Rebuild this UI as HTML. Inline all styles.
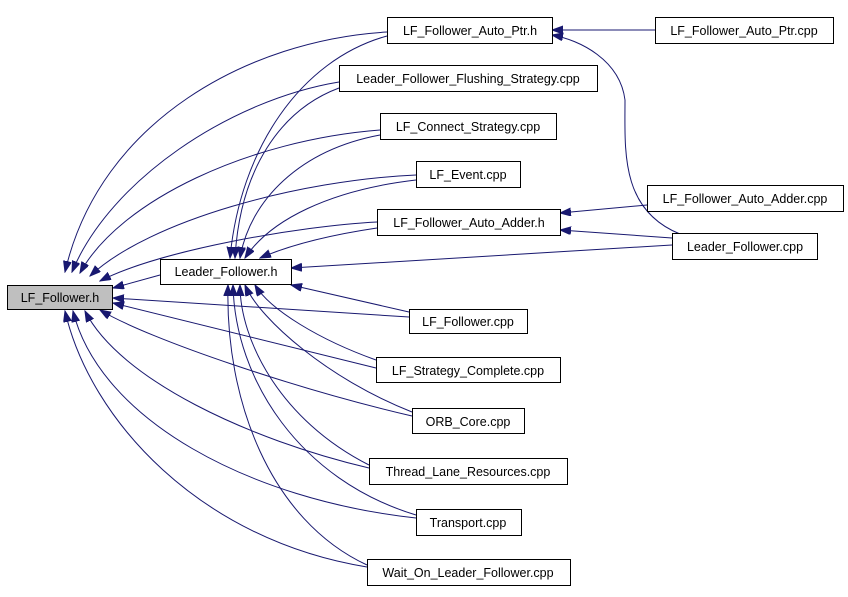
<!DOCTYPE html>
<html><head><style>
body{margin:0;background:#fff;width:848px;height:592px;overflow:hidden}
svg text{font-family:"Liberation Sans",sans-serif;font-size:12.5px;fill:#000}
</style></head><body>
<svg width="848" height="592" viewBox="0 0 848 592" xmlns="http://www.w3.org/2000/svg">
<defs><marker id="a" markerWidth="12" markerHeight="10" refX="11" refY="4" orient="auto" markerUnits="userSpaceOnUse"><path d="M0,0 L11,4 L0,8 z" fill="#191970" stroke="#191970"/></marker></defs>
<g fill="none" stroke="#191970" stroke-width="1" marker-end="url(#a)">
<path d="M387,32 C250,40 100,120 65,272"/>
<path d="M339,82 C230,100 110,180 72,272"/>
<path d="M380,130 C250,140 120,200 80,273"/>
<path d="M416,175 C300,180 150,220 90,276"/>
<path d="M377,222 C300,226 160,250 100,281"/>
<path d="M160,275 L113,288"/>
<path d="M409,317 L113,298"/>
<path d="M376,368 L113,303"/>
<path d="M412,416 C300,390 150,340 100,310"/>
<path d="M369,468 C250,440 120,380 85,311"/>
<path d="M416,518 C250,500 100,420 73,311"/>
<path d="M367,567 C200,540 90,420 65,311"/>
<path d="M387,36 C300,60 240,150 230,258"/>
<path d="M339,88 C280,110 240,170 235,258"/>
<path d="M380,135 C300,150 250,200 240,258"/>
<path d="M416,180 C330,190 270,220 245,258"/>
<path d="M377,228 C330,235 290,245 260,258"/>
<path d="M672,245 L291,268"/>
<path d="M409,312 L291,285"/>
<path d="M376,360 C320,340 270,310 255,285"/>
<path d="M412,412 C330,380 260,320 245,285"/>
<path d="M369,465 C280,420 240,340 240,285"/>
<path d="M416,515 C300,480 235,380 233,285"/>
<path d="M367,565 C270,520 225,400 228,285"/>
<path d="M655,30 L552,30"/>
<path d="M680,234 C620,210 625,150 625,100 C620,60 580,40 552,35"/>
<path d="M647,205 L560,213"/>
<path d="M672,238 L560,230"/>
</g>
<g stroke="#000" stroke-width="1">
<rect x="7.5" y="285.5" width="105" height="24" fill="#bfbfbf"/>
<rect x="160.5" y="259.5" width="131" height="25" fill="#fff"/>
<rect x="387.5" y="17.5" width="165" height="26" fill="#fff"/>
<rect x="655.5" y="17.5" width="178" height="26" fill="#fff"/>
<rect x="339.5" y="65.5" width="258" height="26" fill="#fff"/>
<rect x="380.5" y="113.5" width="176" height="26" fill="#fff"/>
<rect x="416.5" y="161.5" width="104" height="26" fill="#fff"/>
<rect x="377.5" y="209.5" width="183" height="26" fill="#fff"/>
<rect x="647.5" y="185.5" width="196" height="26" fill="#fff"/>
<rect x="672.5" y="233.5" width="145" height="26" fill="#fff"/>
<rect x="409.5" y="309.5" width="118" height="24" fill="#fff"/>
<rect x="376.5" y="357.5" width="184" height="25" fill="#fff"/>
<rect x="412.5" y="408.5" width="112" height="25" fill="#fff"/>
<rect x="369.5" y="458.5" width="198" height="26" fill="#fff"/>
<rect x="416.5" y="509.5" width="105" height="26" fill="#fff"/>
<rect x="367.5" y="559.5" width="203" height="26" fill="#fff"/>
</g>
<g text-anchor="middle">
<text x="60" y="302">LF_Follower.h</text>
<text x="226" y="276">Leader_Follower.h</text>
<text x="470" y="35">LF_Follower_Auto_Ptr.h</text>
<text x="744" y="35">LF_Follower_Auto_Ptr.cpp</text>
<text x="468" y="83">Leader_Follower_Flushing_Strategy.cpp</text>
<text x="468" y="131">LF_Connect_Strategy.cpp</text>
<text x="468" y="179">LF_Event.cpp</text>
<text x="469" y="227">LF_Follower_Auto_Adder.h</text>
<text x="745" y="203">LF_Follower_Auto_Adder.cpp</text>
<text x="745" y="251">Leader_Follower.cpp</text>
<text x="468" y="326">LF_Follower.cpp</text>
<text x="468" y="375">LF_Strategy_Complete.cpp</text>
<text x="468" y="426">ORB_Core.cpp</text>
<text x="468" y="476">Thread_Lane_Resources.cpp</text>
<text x="468" y="527">Transport.cpp</text>
<text x="468" y="577">Wait_On_Leader_Follower.cpp</text>
</g>
</svg>
</body></html>
